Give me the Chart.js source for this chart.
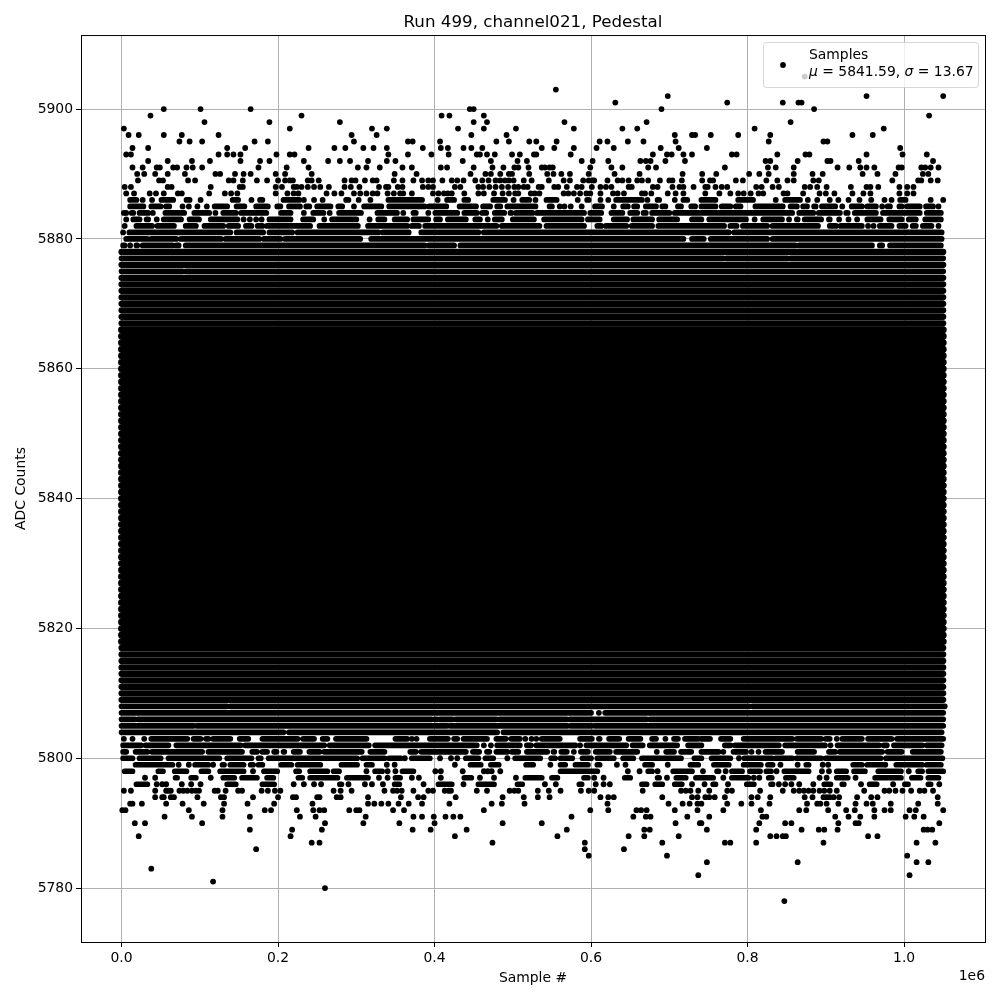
<!DOCTYPE html>
<html>
<head>
<meta charset="utf-8">
<title>Run 499, channel021, Pedestal</title>
<script src="https://cdn.jsdelivr.net/npm/chart.js@4"></script>
<style>
  html, body { margin: 0; background: #fff; }
  canvas { display: block; }
</style>
</head>
<body>
<canvas id="pedestalChart" width="1000" height="1000"></canvas>
<script>
const titleText = "Run 499, channel021, Pedestal";
const xTitle = "Sample #";
const yTitle = "ADC Counts";
const xOffsetText = "1e6";
const legendName = "Samples";
const legendMean = "5841.59";
const legendSigma = "13.67";

// sample numbers are in thousands, x axis shows them in units of 1e6
const xTicks = [0, 200, 400, 600, 800, 1000];
const yTicks = [5780, 5800, 5820, 5840, 5860, 5880, 5900];

// every row is one ADC level. plain number = single sample, [a, b] = run of overlapping samples
const sparseLevels = [5905, 5903, 5902, 5901, 5900, 5899, 5898, 5897, 5896, 5895, 5894, 5893, 5892, 5891, 5890, 5889, 5888, 5887];
const sparseSamples = [
  [873],
  [555],
  [698, 952, 1050],
  [631, 774, 845, 865, 869],
  [54, 101, 165, 445, 450, 690, 885],
  [37, 230, 409, 419, 463, 1032],
  [106, 189, 279, 450, 467, 566, 671, 855],
  [3, 215, 320, 339, 430, 463, 504, 578, 640, 659, 809, 974],
  [9, 22, 54, 77, 124, 294, 326, 447, 492, 707, 729, 733, 753, 788, 829, 934, 960],
  [74, 87, 103, 170, 187, 297, 366, 372, 407, 479, 495, 521, 530, 556, 611, 621, 647, 667, 708, 827, 897, 902],
  [14, 34, 135, 158, 239, 272, 286, 309, 322, 339, 385, 408, 417, 437, 447, 461, 537, 553, 578, 607, 629, 689, 712, 748, 995],
  [6, 12, 124, 135, 143, 152, 198, 215, 221, 341, 366, 396, 418, 454, 458, 467, 477, 499, 509, 527, 530, 574, 679, 697, 703, 718, 729, 780, 786, 838, 874, 879, 952, 998, 1029],
  [34, 59, 90, 113, 152, 177, 189, 233, 264, 279, 292, 315, 339, 350, 436, 472, 506, 518, 588, 602, 622, 663, 670, 676, 695, 720, 823, 829, 864, 902, 906, 942, 1037],
  [14, 27, 45, 49, 66, 71, 83, 91, 103, 175, 211, 239, 302, 313, 330, 359, 371, 408, 416, 450, 474, 488, 502, 507, 520, 537, 541, 547, 551, 599, 626, 640, 673, 683, 771, 826, 836, 859, 915, 930, 944, 952, 962, 993, 997, 1022, 1027, 1034, 1044],
  [20, 29, 43, 59, 81, 120, 126, 145, 156, 165, 197, 209, 243, 349, 377, 446, 465, 472, 484, 495, 499, 521, 544, 552, 562, 573, 597, 630, 662, 717, 742, 760, 802, 815, 827, 859, 883, 896, 947, 966, 989, 1024, 1031],
  [21, 48, 53, 85, 94, 137, 143, 155, 173, 186, 200, 209, 215, 219, 238, 243, 252, 285, 294, 299, 311, 321, 326, 348, 359, 373, 384, 392, 398, 410, 422, 429, 437, 452, 461, 469, 478, 484, 490, 495, 501, 514, 524, 546, 565, 573, 590, 597, 602, 604, 621, 634, 640, 648, 659, 665, 673, 688, 700, 704, 716, 742, 752, 756, 785, 794, 824, 838, 851, 859, 884, 891, 985, 1018, 1022, 1034, 1043],
  [4, 12, 59, 64, 114, 151, 155, 197, 205, 220, 224, 230, 238, 246, 254, 265, 285, 293, 304, 329, 338, 341, 353, 359, 385, 392, 398, 426, 433, 456, 462, 470, 478, 486, 494, 502, 507, 514, 519, 533, 537, 553, 558, 569, 582, 588, 601, 612, 619, 626, 648, 652, 679, 685, 704, 713, 718, 731, 746, 749, 759, 767, 774, 811, 818, 832, 840, 873, 880, 889, 901, 932, 952, 957, 967, 994, 1004, 1012],
  [6, 16, 36, 44, 54, 72, 77, 112, 132, 140, 148, 197, 212, 220, 226, 262, 272, 281, 297, 305, 313, 321, 327, 340, 348, 356, 360, 371, 398, 405, 412, 417, 422, 438, 456, 463, 476, 487, 495, 503, 507, 523, 528, 534, 565, 571, 578, 586, 594, 599, 612, 628, 634, 642, 665, 669, 677, 698, 708, 718, 746, 764, 778, 788, 795, 804, 814, 820, 846, 851, 871, 892, 900, 911, 934, 948, 957, 994, 1004, 1012]
];

const upperRunLevels = [5886, 5885, 5884, 5883, 5882, 5881, 5880, 5879, 5877, 5875];
const upperRunSamples = [
  [[11, 19], 27, 39, [51, 66], [83, 87], 101, [142, 149], 166, [177, 180], [207, 227], 233, 246, 257, [287, 290], 303, 318, [341, 384], 404, [416, 425], [438, 443], [475, 490], 501, [512, 521], 529, [543, 556], 583, [595, 597], 612, 622, [632, 665], 672, [685, 687], [707, 707], [718, 723], [741, 759], [788, 807], 836, [848, 867], 877, 889, 905, 916, 929, 943, 958, 975, 984, [995, 1002], 1034, 1050],
  [[11, 28], [38, 50], [57, 61], 78, 86, 97, 109, [119, 135], [147, 157], [172, 187], [199, 203], [214, 228], [236, 240], [250, 267], [277, 282], 297, [310, 332], [342, 387], [393, 415], [432, 453], [462, 471], [480, 484], [493, 529], [547, 550], 560, 566, 574, 588, [605, 614], 629, [641, 647], [655, 659], [670, 683], [691, 695], [711, 715], [728, 733], [741, 759], [767, 778], [785, 791], [810, 845], [855, 863], [871, 876], [885, 887], [895, 912], 921, [933, 946], [953, 964], 972, [979, 982], [994, 997], [1004, 1020], [1028, 1037], 1044],
  [3, 6, [13, 15], [23, 34], 40, [56, 80], [93, 112], 120, [130, 146], [153, 185], [204, 216], 233, [245, 258], 266, [278, 306], [327, 352], 360, [373, 376], 392, [401, 429], [438, 454], [461, 466], [477, 489], [497, 498], [504, 525], [531, 591], [599, 613], [626, 640], [650, 659], [667, 670], [678, 700], [707, 737], [741, 857], [866, 884], [891, 918], [926, 928], [937, 964], [973, 1020], [1029, 1047]],
  [6, [15, 23], [32, 34], 45, [54, 76], [87, 99], [114, 148], 156, 164, 172, 179, [189, 216], [232, 245], [259, 259], [269, 300], 317, [328, 336], [349, 365], [373, 392], [402, 407], [417, 440], [452, 458], 468, [477, 486], [500, 527], [540, 588], [596, 611], [629, 646], [654, 678], [687, 710], [729, 741], [751, 798], 809, [820, 844], 853, [863, 864], [873, 894], [904, 905], [917, 918], 929, 940, [953, 970], [981, 997], [1006, 1015], [1027, 1047]],
  [4, [19, 39], [46, 67], [82, 95], [106, 130], [137, 149], [159, 166], [174, 180], [186, 241], [253, 302], [315, 365], [371, 380], [388, 479], [486, 534], [543, 591], [608, 613], [619, 645], [652, 678], [686, 770], [778, 786], [794, 825], [832, 890], [905, 913], [919, 946], 954, 961, [969, 984], [994, 1002], [1011, 1015], [1024, 1035], 1044],
  [2, [10, 139], [147, 181], [189, 218], [225, 328], [334, 367], [383, 456], [463, 776], [783, 1048]],
  [[6, 33], [38, 70], [76, 127], [133, 176], [182, 203], [209, 305], [319, 718], [729, 744], [753, 825], [832, 1048]],
  [[2, 4], 11, [19, 20], [27, 65], [70, 73], [82, 387], [393, 425], [433, 861], [866, 959], [969, 972], [982, 1047]],
  [[0, 769], [773, 851], [855, 1050]],
  [[0, 78], [82, 1050]]
];

const lowerDotLevels = [5795, 5794, 5793, 5792, 5791, 5790, 5789, 5788, 5787, 5786, 5785, 5784, 5783, 5782, 5781, 5780, 5778];
const lowerDotSamples = [
  [3, 12, 43, 57, 60, 63, 74, 79, 84, 90, 95, 99, 119, 123, 133, 149, 154, 179, 187, 196, 203, 271, 280, 294, 336, 347, 352, 358, 373, 392, 398, 413, 418, 421, 454, 467, 496, 502, 507, 532, 546, 561, 587, 597, 604, 666, 715, 721, 727, 737, 751, 774, 780, 816, 845, 859, 866, 872, 878, 884, 892, 898, 905, 914, 949, 975, 981, 989, 998, 1009, 1020, 1026, 1037],
  [43, 52, 54, 63, 67, 97, 127, 131, 168, 200, 219, 223, 250, 253, 275, 280, 315, 357, 379, 386, 427, 487, 514, 532, 547, 612, 622, 629, 691, 729, 736, 746, 751, 758, 771, 805, 813, 829, 873, 883, 897, 901, 905, 910, 917, 940, 958, 966, 1043],
  [11, 14, 26, 57, 78, 105, 131, 161, 195, 244, 315, 323, 332, 341, 354, 367, 384, 419, 473, 486, 515, 621, 699, 717, 726, 736, 741, 774, 792, 805, 828, 876, 889, 893, 901, 916, 938, 952, 960, 983, 1018, 1043],
  [1, 5, 86, 129, 183, 191, 224, 245, 253, 259, 291, 300, 304, 347, 361, 463, 599, 622, 658, 664, 671, 707, 736, 769, 817, 866, 875, 903, 926, 937, 962, 975, 983, 1007, 1015, 1050],
  [55, 90, 129, 164, 228, 248, 312, 373, 384, 399, 414, 424, 433, 575, 654, 670, 676, 723, 751, 819, 824, 912, 929, 944, 962, 1002, 1013, 1025],
  [17, 30, 103, 260, 309, 355, 400, 487, 537, 708, 739, 741, 815, 848, 856, 916, 938, 942, 1045],
  [164, 218, 256, 372, 395, 441, 569, 668, 675, 748, 811, 869, 891, 898, 915, 1025, 1030, 1036],
  [22, 216, 426, 557, 648, 668, 712, 829, 837, 845, 849, 954, 966],
  [243, 253, 474, 592, 691, 771, 778, 811, 897, 1016, 1040],
  [172, 592, 642],
  [597, 697, 1004],
  [748, 864, 1016, 1031],
  [38],
  [737, 1007],
  [117],
  [260],
  [847]
];

const lowerRunLevels = [5796, 5797, 5798, 5799, 5800, 5801, 5802, 5803, 5804, 5805, 5806, 5807, 5808];
const lowerRunSamples = [
  [[19, 33], 45, 52, 57, 77, 89, 101, [135, 146], [180, 195], 220, 233, 246, 255, [279, 281], 290, 311, 320, 334, [349, 355], 386, [405, 422], 437, [456, 476], [506, 512], 541, 555, [585, 588], 606, 616, 624, [665, 671], [682, 691], [707, 716], 729, 745, [756, 759], 775, [799, 808], [830, 832], 840, 848, 856, 866, 884, [898, 906], [921, 923], 945, [956, 965], 986, [1001, 1005], [1031, 1034], 1045],
  [30, 43, [69, 71], [89, 95], 114, [130, 144], [154, 173], [186, 194], [226, 231], [241, 276], [288, 315], 329, 340, [350, 356], 371, 380, 408, [438, 447], 458, 476, 504, [516, 537], [550, 557], [591, 596], 604, 616, [643, 650], [685, 687], 697, [709, 721], [734, 756], 769, [780, 801], 808, 815, [827, 831], [849, 859], 892, 901, [914, 928], 938, [963, 996], [1010, 1021], [1031, 1044]],
  [[4, 14], [47, 53], [68, 83], [102, 111], [126, 156], 168, [182, 199], [223, 227], [241, 263], [271, 278], 313, [324, 333], 340, 350, [359, 373], 401, 408, 436, 463, 468, 473, 484, [561, 608], 647, 662, [673, 678], 685, [705, 729], 743, [761, 763], 772, [780, 793], [803, 816], [824, 830], 837, [847, 878], 895, 904, [914, 926], [936, 950], [967, 996], 1006, [1018, 1023], [1031, 1050]],
  [[18, 65], 73, 86, [94, 111], 117, [129, 131], [139, 156], [165, 168], [175, 180], [204, 217], [225, 254], [281, 301], [313, 320], 339, 349, 426, [446, 459], [472, 482], [517, 526], 548, [561, 567], [580, 596], [608, 611], 633, 644, [669, 678], 698, [727, 737], [757, 776], [795, 817], [826, 832], 842, 864, [875, 878], 896, 903, [935, 946], [953, 972], 976, [990, 1023], [1029, 1047]],
  [[2, 14], [23, 50], [60, 125], [135, 166], [175, 178], [188, 301], [308, 336], [342, 357], 362, [371, 394], 407, 421, 429, [440, 456], [465, 475], 493, [503, 535], [549, 554], [561, 576], [589, 600], [608, 629], [641, 654], [665, 715], [732, 741], [754, 778], 789, [796, 831], [836, 857], [863, 894], [900, 970], [977, 1049]],
  [[2, 6], [18, 33], [39, 103], [111, 154], [167, 173], [180, 186], [195, 198], [207, 208], [220, 228], [240, 253], [259, 307], [318, 336], [369, 376], [383, 440], [449, 457], [467, 470], [479, 493], [499, 507], [518, 544], [552, 553], [562, 569], 578, [587, 596], [606, 624], [632, 659], 684, [696, 706], [715, 728], [741, 763], 769, [782, 798], 805, 814, [823, 844], [864, 885], [904, 912], [918, 972], [979, 997], [1011, 1047]],
  [[2, 25], [31, 60], [70, 152], [158, 259], [266, 316], [324, 454], 463, 472, [480, 509], [518, 523], [530, 580], 586, [594, 645], [653, 666], [675, 710], [724, 741], [771, 778], [784, 840], [848, 899], 906, [915, 968], [974, 978], [987, 1023], [1029, 1048]],
  [3, 14, 29, [38, 84], [92, 101], [108, 111], [117, 139], [151, 162], [180, 225], [232, 246], [257, 263], [274, 313], [350, 365], 371, 377, [394, 417], [425, 429], [437, 467], [479, 491], [498, 509], 516, 524, 530, [537, 560], [586, 601], [610, 611], [623, 636], [648, 663], [678, 683], 695, [706, 711], [720, 737], [741, 752], [766, 778], [795, 857], [863, 894], [900, 905], 914, [921, 946], [954, 984], [991, 1050]],
  [[0, 207], [214, 480], [488, 1048]],
  [[0, 92], [96, 416], [420, 570], [574, 601], [605, 1050]],
  [[0, 17], [21, 396], [400, 403], [407, 423], [427, 479], [483, 569], [573, 671], [675, 1050]],
  [[0, 600], 610, [618, 1050]],
  [[0, 135], [139, 802], [806, 1052]]
];

// rows that are solid from the first sample to the last
const firstSample = 0;
const lastSample = 1050;
const solidRows = [5809, 5810, 5811, 5812, 5813, 5814, 5815, 5816, 5817, 5867, 5868, 5869, 5870, 5871, 5872, 5873, 5874, 5876, 5878];
const coreRows = [5818, 5819, 5820, 5821, 5822, 5823, 5824, 5825, 5826, 5827, 5828, 5829, 5830, 5831, 5832, 5833, 5834, 5835, 5836, 5837, 5838, 5839, 5840, 5841, 5842, 5843, 5844, 5845, 5846, 5847, 5848, 5849, 5850, 5851, 5852, 5853, 5854, 5855, 5856, 5857, 5858, 5859, 5860, 5861, 5862, 5863, 5864, 5865, 5866];

const dots = [];
const runs = [];
const solidRuns = [];
const coreRuns = [];

function addRow(y, samples) {
  samples.forEach((s) => {
    if (Array.isArray(s)) {
      runs.push({ x: s[0], y: y }, { x: s[1], y: y }, { x: NaN, y: NaN });
    } else {
      dots.push({ x: s, y: y });
    }
  });
}

sparseLevels.forEach((y, i) => addRow(y, sparseSamples[i]));
upperRunLevels.forEach((y, i) => addRow(y, upperRunSamples[i]));
lowerDotLevels.forEach((y, i) => addRow(y, lowerDotSamples[i]));
lowerRunLevels.forEach((y, i) => addRow(y, lowerRunSamples[i]));
solidRows.forEach((y) => solidRuns.push({ x: firstSample, y: y }, { x: lastSample, y: y }, { x: NaN, y: NaN }));
coreRows.forEach((y) => coreRuns.push({ x: firstSample, y: y }, { x: lastSample, y: y }, { x: NaN, y: NaN }));

const fontName = "'DejaVu Sans'";

// frame, legend box and the 1e6 offset text are drawn after the datasets
const finishPlugin = {
  id: "finish",
  afterDraw(chart) {
    const ctx = chart.ctx;
    const area = chart.chartArea;
    ctx.save();

    ctx.strokeStyle = "#000";
    ctx.lineWidth = 1;
    ctx.strokeRect(area.left + 0.5, area.top + 0.5, area.right - area.left, area.bottom - area.top);

    ctx.fillStyle = "#000";
    ctx.font = "13.9px " + fontName;
    ctx.textAlign = "right";
    ctx.textBaseline = "alphabetic";
    ctx.fillText(xOffsetText, 985, 980);

    ctx.beginPath();
    ctx.roundRect(763.5, 42.5, 215, 45, 3);
    ctx.fillStyle = "rgba(255,255,255,0.8)";
    ctx.fill();
    ctx.strokeStyle = "rgba(204,204,204,0.8)";
    ctx.stroke();

    ctx.fillStyle = "#000";
    ctx.beginPath();
    ctx.arc(783, 65, 2.9, 0, Math.PI * 2);
    ctx.fill();

    ctx.textAlign = "left";
    ctx.font = "13.9px " + fontName;
    ctx.fillText(legendName, 809, 59);

    let x = 809;
    const parts = [["italic", "\u03bc"], ["normal", " = " + legendMean + ", "], ["italic", "\u03c3"], ["normal", " = " + legendSigma]];
    parts.forEach((p) => {
      ctx.font = p[0] + " 13.9px " + fontName;
      ctx.fillText(p[1], x, 76);
      x += ctx.measureText(p[1]).width;
    });
    ctx.restore();
  }
};

new Chart(document.getElementById("pedestalChart").getContext("2d"), {
  type: "scatter",
  data: {
    datasets: [
      { data: coreRuns, showLine: true, pointRadius: 0, borderColor: "#000", borderWidth: 7, borderCapStyle: "round" },
      { data: solidRuns, showLine: true, pointRadius: 0, borderColor: "#000", borderWidth: 6.2, borderCapStyle: "round" },
      { data: runs, showLine: true, pointRadius: 0, borderColor: "#000", borderWidth: 5.7, borderCapStyle: "round" },
      { data: dots, showLine: false, pointRadius: 2.9, pointBorderWidth: 0, pointBackgroundColor: "#000" }
    ]
  },
  plugins: [finishPlugin],
  options: {
    responsive: false,
    animation: false,
    devicePixelRatio: 1,
    events: [],
    layout: { padding: { left: 0, right: 15, top: 0, bottom: 0 } },
    plugins: {
      legend: { display: false },
      tooltip: { enabled: false },
      title: {
        display: true,
        text: titleText,
        color: "#000",
        fullSize: false,
        font: { family: fontName, size: 16.7, weight: "normal" },
        padding: { top: 13, bottom: 2 }
      }
    },
    scales: {
      x: {
        type: "linear",
        min: -51.8,
        max: 1103.4,
        afterBuildTicks(scale) { scale.ticks = xTicks.map((v) => ({ value: v })); },
        afterFit(scale) { scale.height = 58; },
        grid: { color: "#b0b0b0", lineWidth: 1, tickColor: "#000", tickLength: 5 },
        border: { display: false },
        ticks: {
          color: "#000",
          maxRotation: 0,
          autoSkip: false,
          padding: 3,
          font: { family: fontName, size: 13.9 },
          callback: (v) => (v / 1000).toFixed(1)
        },
        title: { display: true, text: xTitle, color: "#000", font: { family: fontName, size: 13.9 }, padding: { top: 3, bottom: 13 } }
      },
      y: {
        type: "linear",
        min: 5771.7,
        max: 5911.4,
        afterBuildTicks(scale) { scale.ticks = yTicks.map((v) => ({ value: v })); },
        afterFit(scale) { scale.width = 81; },
        grid: { color: "#b0b0b0", lineWidth: 1, tickColor: "#000", tickLength: 5 },
        border: { display: false },
        ticks: {
          color: "#000",
          autoSkip: false,
          padding: 3,
          font: { family: fontName, size: 13.9 },
          callback: (v) => String(v)
        },
        title: { display: true, text: yTitle, color: "#000", font: { family: fontName, size: 13.9 }, padding: { top: 13, bottom: 3 } }
      }
    }
  }
});
</script>
</body>
</html>
